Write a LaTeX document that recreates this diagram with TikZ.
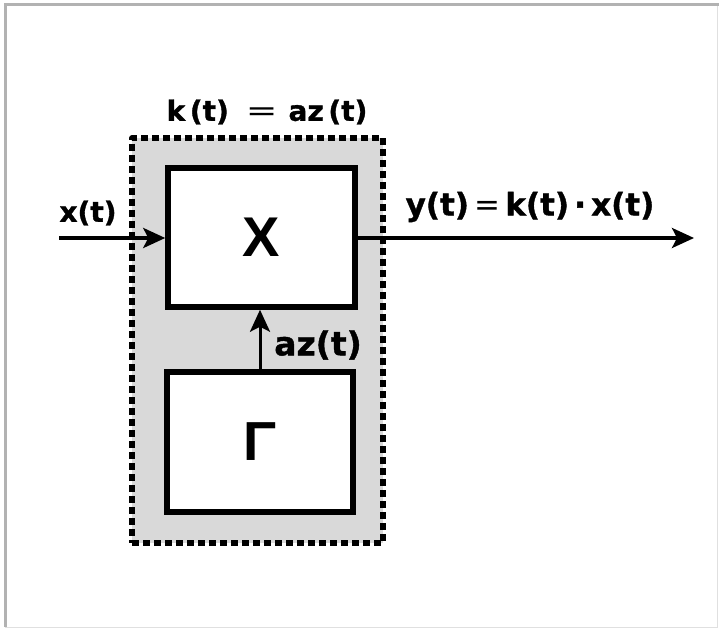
\documentclass[tikz,border=0pt]{standalone}
\usepackage{fontspec}
\usetikzlibrary{arrows.meta}
\newfontfamily\lblfont{DejaVu Sans Bold}[FakeBold=1.2]
\newfontfamily\eqfont{DejaVu Sans}
\newfontfamily\symfont{Liberation Sans Bold}
\newcommand{\lbl}[1]{\fontsize{#1}{#1}\selectfont\lblfont}
\newcommand{\eqsign}{\,{\eqfont=}\,}
\begin{document}
\begin{tikzpicture}[x=1pt,y=-1pt,
  block/.style={draw,line width=5.5pt,fill=white,inner sep=0pt},
  group/.style={draw,line width=5.5pt,dash pattern=on 7pt off 4pt,line join=round,fill=black!15,inner sep=0pt},
  sig/.style={line width=3.5pt,-{Stealth[length=22pt,width=20pt,inset=5pt]}},
  tag/.style={inner sep=0pt,text=black}]
  \useasboundingbox (0,0) rectangle (719,628);
  % outer frame
  \draw[black!12,line width=1pt] (717,5) -- (717,627) -- (5,627);
  \draw[black!30,line width=3pt] (5,627) -- (5,5) -- (719,5);
  % grouping box around the multiplier and the generator
  \node[group,minimum width=251pt,minimum height=405pt] (grp) at (257.5,340.5) {};
  \node[tag] (grplbl) at (267,112) {\lbl{28}k\,(t)\hspace{17pt}\scalebox{1.35}[1]{\eqfont=}\hspace{11pt}az\,(t)};
  % blocks
  \node[block,minimum width=187pt,minimum height=139pt] (mul) at (261.5,237.5) {\fontsize{56}{56}\selectfont\symfont X};
  \node[block,minimum width=186pt,minimum height=140pt] (gen) at (260,442) {\fontsize{55}{55}\selectfont\symfont Γ};
  % signals
  \coordinate (in) at (59,238);
  \coordinate (out) at (694,238);
  \draw[sig] (in) -- (mul.west |- in);
  \draw[sig] (mul.east |- out) -- (out);
  \draw[sig,line width=3pt] (gen.north -| 260,0) -- (mul.south -| 260,0);
  \node[tag] (xlbl) at (88,213) {\lbl{28}x(t)};
  \node[tag] (ylbl) at (530,207) {\lbl{31}y(t)\eqsign k(t)\,·\,x(t)};
  \node[tag] (azlbl) at (318,345) {\lbl{33}az(t)};
\end{tikzpicture}
\end{document}
